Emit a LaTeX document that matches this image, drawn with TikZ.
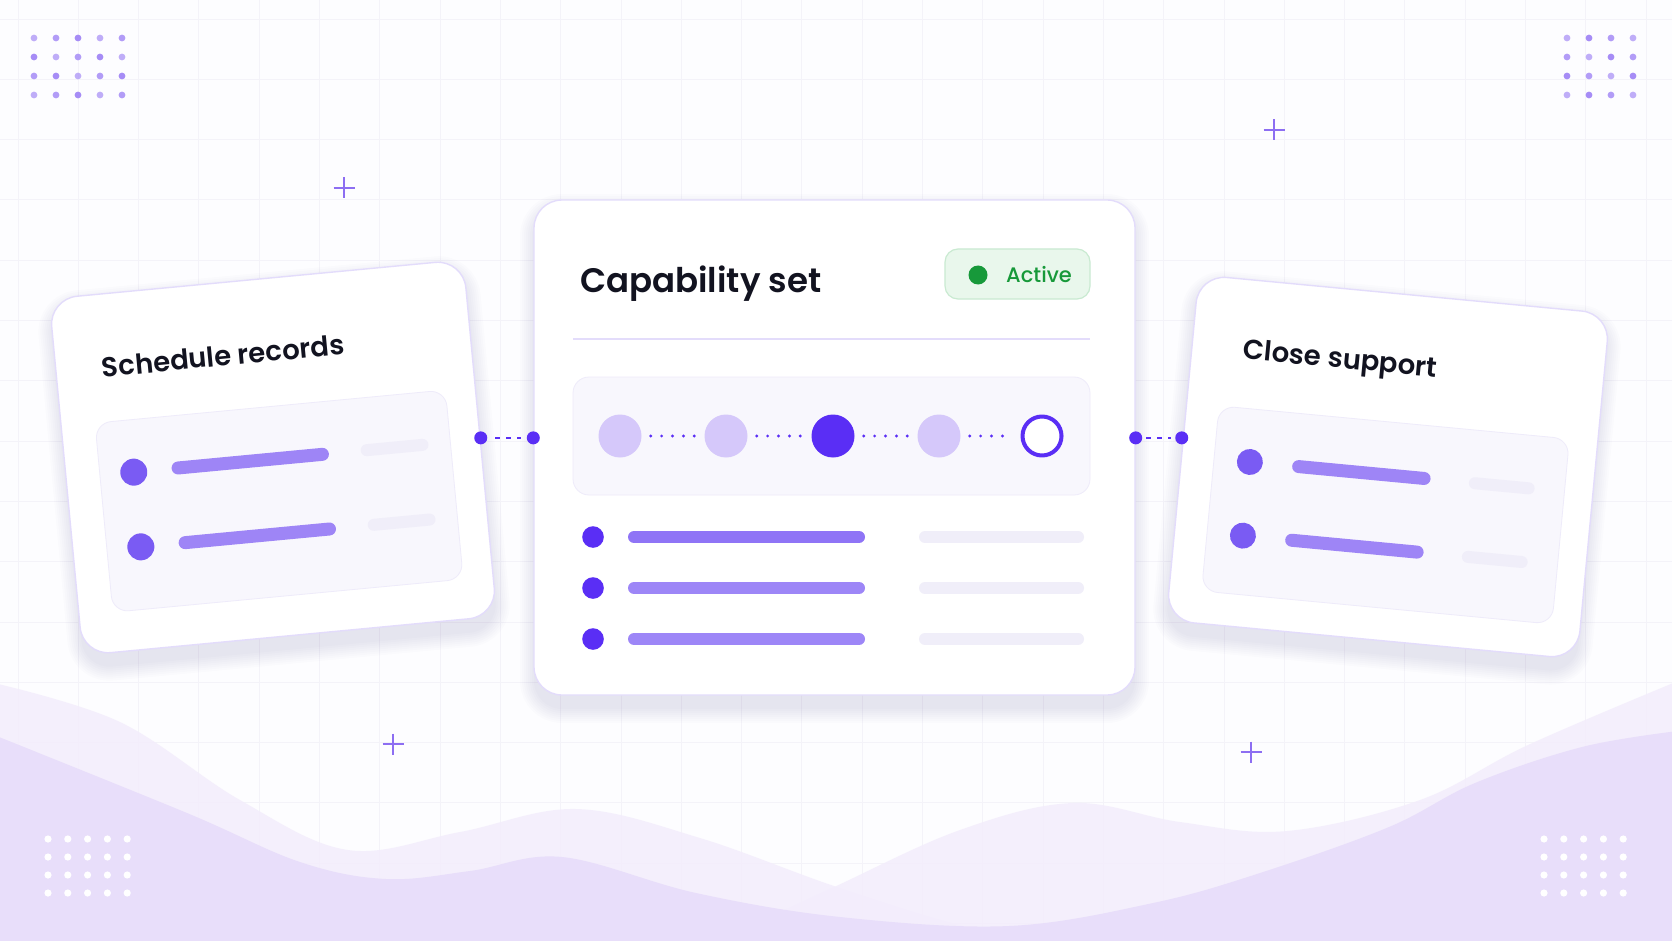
\documentclass[tikz,border=0pt]{standalone}
\usepackage{fontspec}
\setmainfont{Poppins}
\newfontfamily\headfont{Poppins SemiBold}
\newfontfamily\tagfont{Poppins Medium}

\definecolor{bgc}{HTML}{FDFDFF}
\definecolor{gridc}{HTML}{F4F3F9}
\definecolor{cardline}{HTML}{E3DCFB}
\definecolor{ink}{HTML}{121320}
\definecolor{violet}{HTML}{5A2EF5}
\definecolor{lav}{HTML}{D5C8FA}
\definecolor{barA}{HTML}{8F74F6}
\definecolor{barB}{HTML}{9D86F7}
\definecolor{sidebar}{HTML}{9E85F6}
\definecolor{sidedot}{HTML}{7A5BF3}
\definecolor{grayb}{HTML}{F0EEF9}
\definecolor{panelc}{HTML}{F8F7FD}
\definecolor{panelline}{HTML}{EEEBFA}
\definecolor{okfill}{HTML}{E9F7EC}
\definecolor{okline}{HTML}{C9EAD1}
\definecolor{okgreen}{HTML}{17993A}
\definecolor{sparkc}{HTML}{8D6EF2}
\definecolor{dotc}{HTML}{A68CF6}
\definecolor{waveback}{HTML}{F3EDFC}
\definecolor{wavefront}{HTML}{E8DEFA}
\definecolor{shadec}{HTML}{3A2E6E}

% soft shadow under a card centred at the origin: width, height
\newcommand\cardshade[2]{%
  \foreach \e in {0,...,7} {
    \pgfmathsetmacro\rr{28+2*\e}
    \fill[shadec, opacity=0.012, rounded corners=\rr pt]
      (-#1/2-2*\e,-#2/2-2*\e+8) rectangle (#1/2+2*\e,#2/2+2*\e+14);
  }}

\tikzset{
  cardbox/.style={draw=cardline, line width=1.4pt, fill=white, rounded corners=28pt},
  panel/.style={draw=panelline, line width=0.8pt, fill=panelc, rounded corners=16pt},
  badge/.style={draw=okline, line width=1.2pt, fill=okfill, rounded corners=13pt},
  stepsoft/.style={circle, fill=lav, minimum size=43pt, inner sep=0pt},
  stepnow/.style={circle, fill=violet, minimum size=43pt, inner sep=0pt},
  stepnext/.style={circle, draw=violet, fill=white, line width=4pt, minimum size=39pt, inner sep=0pt},
  dotline/.style={violet, line width=3.2pt, line cap=round, dash pattern=on 0pt off 10.9pt, shorten >=9pt, shorten <=9pt},
  joint/.style={circle, fill=violet, minimum size=13pt, inner sep=0pt},
  linkdash/.style={violet, line width=2.6pt, dash pattern=on 4.5pt off 6.5pt},
  mainbar/.style={line width=12pt, line cap=round},
  sidebarline/.style={sidebar, line width=13pt, line cap=round},
  ghostbar/.style={grayb, line width=12pt, line cap=round},
  gridline/.style={gridc, line width=0.9pt},
  sparkle/.style={sparkc, line width=2.6pt},
  cardtitle/.style={anchor=base west, inner sep=0pt, text=ink, font=\headfont\fontsize{27.5}{30}\selectfont}
}

\begin{document}
\begin{tikzpicture}[x=1pt, y=-1pt, line join=round]
\useasboundingbox (0,0) rectangle (1672,941);
\clip (0,0) rectangle (1672,941);
\fill[bgc] (0,0) rectangle (1672,941);

% faint grid
\foreach \k in {0,...,27} \draw[gridline] (18+60.3*\k,0) -- (18+60.3*\k,941);
\foreach \k in {0,...,15} \draw[gridline] (0,19+60.3*\k) -- (1672,19+60.3*\k);

% waves
\fill[waveback, fill opacity=0.85] plot[smooth, tension=0.6] coordinates {(-6,683) (120,722) (240,800) (348,850) (460,832) (576,809) (700,838) (840,888) (980,930) (1120,952)} -- (1120,960) -- (-6,960) -- cycle;
\fill[waveback, fill opacity=0.85] plot[smooth, tension=0.6] coordinates {(1678,681) (1528,745) (1420,800) (1287,831) (1180,822) (1073,803) (960,830) (832,888) (700,950)} -- (700,960) -- (1678,960) -- cycle;
\fill[wavefront] plot[smooth, tension=0.6] coordinates {(-6,735) (187,813) (300,862) (386,879) (470,871) (562,857) (696,893) (840,917) (1009,926) (1153,903) (1260,873) (1389,827) (1475,783) (1582,747) (1678,731)} -- (1678,960) -- (-6,960) -- cycle;

% dot grids
\foreach \i in {0,...,4}
  \foreach \j in {0,...,3} {
    \pgfmathsetmacro\op{0.7+0.15*mod(\i+2*\j,3)}
    \fill[dotc, opacity=\op] (34+22*\i,38+19*\j) circle (3.4);
  }
\foreach \i in {0,...,3}
  \foreach \j in {0,...,3} {
    \pgfmathsetmacro\op{0.7+0.15*mod(2*\i+\j,3)}
    \fill[dotc, opacity=\op] (1567+22*\i,38+19*\j) circle (3.4);
  }
\foreach \i in {0,...,4}
  \foreach \j in {0,...,3} {
    \fill[white] (48+19.8*\i,839+18*\j) circle (3.6);
    \fill[white] (1544+19.8*\i,839+18*\j) circle (3.6);
  }

% sparkles
\foreach \px/\py in {344/188, 1274/130, 393/744, 1251/752}
  \draw[sparkle] (\px-10.5,\py) -- (\px+10.5,\py) (\px,\py-10.5) -- (\px,\py+10.5);

% left card
\begin{scope}[shift={(273,457.5)}, rotate=5.4, transform shape]
  \cardshade{416}{358}
  \node[cardbox, minimum width=416pt, minimum height=358pt] (sched) at (0,0) {};
  \node[cardtitle] (schedtitle) at (-162,-96) {Schedule records};
  \node[panel, minimum width=352pt, minimum height=190pt] (schedpanel) at (2,44) {};
  \foreach \v in {1.5,76.5} {
    \fill[sidedot] (-140,\v) circle (13.5);
    \draw[sidebarline] (-95.5,\v) -- (49.5,\v);
    \draw[ghostbar] (94,\v) -- (150,\v);
  }
\end{scope}

% right card
\begin{scope}[shift={(1388,467)}, rotate=-5.4, transform shape]
  \cardshade{413}{347}
  \node[cardbox, minimum width=413pt, minimum height=347pt] (close) at (0,0) {};
  \node[cardtitle] (closetitle) at (-155,-94) {Close support};
  \node[panel, minimum width=352pt, minimum height=186pt] (closepanel) at (2,48) {};
  \foreach \v in {8,82} {
    \fill[sidedot] (-138,\v) circle (13);
    \draw[sidebarline] (-89,\v) -- (37,\v);
    \draw[ghostbar] (88,\v) -- (142,\v);
  }
\end{scope}

% centre card
\begin{scope}[shift={(834.5,447.5)}]
  \cardshade{601}{495}
\end{scope}
\node[cardbox, minimum width=601pt, minimum height=495pt] (cap) at (834.5,447.5) {};
\node[anchor=base west, inner sep=0pt, text=ink, font=\headfont\fontsize{34}{38}\selectfont] (captitle) at (580,292) {Capability set};
\node[badge, minimum width=145pt, minimum height=50pt] (active) at (1017.5,274) {};
\fill[okgreen] (978,275) circle (9.5);
\node[anchor=base west, inner sep=0pt, text=okgreen, font=\tagfont\fontsize{21}{24}\selectfont] (activetext) at (1006,283) {Active};
\draw[cardline, line width=2pt] (573,339) -- (1090,339);
\node[panel, minimum width=517pt, minimum height=118pt] (track) at (831.5,436) {};

\node[stepsoft] (s1) at (620,436) {};
\node[stepsoft] (s2) at (726,436) {};
\node[stepnow] (s3) at (833,436) {};
\node[stepsoft] (s4) at (939,436) {};
\node[stepnext] (s5) at (1042,436) {};
\foreach \a/\b in {s1/s2, s2/s3, s3/s4, s4/s5}
  \draw[dotline] (\a) -- (\b);

\foreach \y/\c in {537/barA, 588/barB, 639/barB} {
  \fill[violet] (593,\y) circle (10.8);
  \draw[mainbar, \c] (634,\y) -- (859,\y);
  \draw[ghostbar] (925,\y) -- (1078,\y);
}

% links between the cards
\node[joint] (j1) at (sched.east) {};
\node[joint] (j2) at (cap.west |- j1) {};
\node[joint] (j3) at (cap.east |- j1) {};
\node[joint] (j4) at (close.west |- j1) {};
\draw[linkdash, shorten <=8pt, shorten >=6pt] (j1) -- (j2);
\draw[linkdash, shorten <=4pt, shorten >=4pt] (j3) -- (j4);
\end{tikzpicture}
\end{document}
